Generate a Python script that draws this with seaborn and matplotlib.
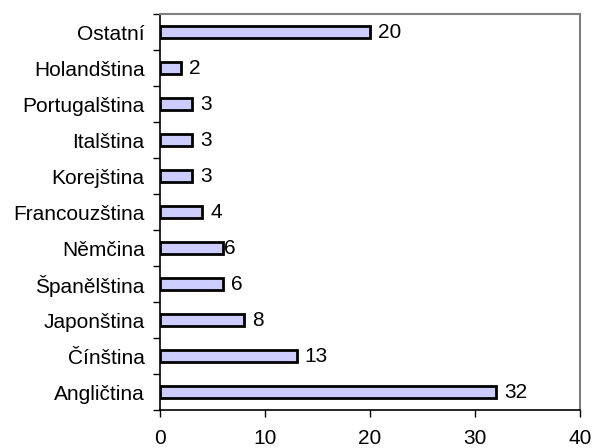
import matplotlib
matplotlib.use("Agg")
import matplotlib.pyplot as plt
import seaborn as sns
import pandas as pd

# jazyky shora dolu
languages = ["Ostatní", "Holandština", "Portugalština", "Italština", "Korejština",
             "Francouzština", "Němčina", "Španělština", "Japonština", "Čínština",
             "Angličtina"]
values = [20, 2, 3, 3, 3, 4, 6, 6, 8, 13, 32]
xticks = [0, 10, 20, 30, 40]

df = pd.DataFrame({"jazyk": languages, "pocet": values})

sns.set_style("white")
plt.rcParams["font.family"] = ["Liberation Sans", "DejaVu Sans"]
plt.rcParams["text.color"] = "black"
plt.rcParams["xtick.color"] = "black"
plt.rcParams["ytick.color"] = "black"

fig = plt.figure(figsize=(5.92, 4.48), dpi=100)
ax = fig.add_axes([160 / 592, 38 / 448, 420 / 592, 396 / 448])

sns.barplot(data=df, x="pocet", y="jazyk", order=languages, orient="h",
            color="#CCCCFF", edgecolor="black", linewidth=2.0, width=0.34,
            saturation=1, ax=ax)

ax.set_xlim(0, 40)
ax.set_ylim(len(languages) - 0.5, -0.5)
ax.set_xticks(xticks)
ax.set_xlabel("")
ax.set_ylabel("")

# popisky hodnot
for i, p in enumerate(ax.patches):
    pad = 1 if languages[i] == "Němčina" else 6
    ax.annotate(f"{values[i]:g}", (p.get_x() + p.get_width(), p.get_y() + p.get_height() / 2),
                xytext=(pad, 0), textcoords="offset points", ha="left", va="center",
                fontsize=15, color="black")

# tiky na hranicich kategorii
ax.set_yticks([i - 0.5 for i in range(len(languages) + 1)], minor=True)
ax.tick_params(axis="y", which="major", length=0, pad=11, labelsize=15, labelcolor="black")
ax.tick_params(axis="y", which="minor", length=5, width=1, color="black", direction="out", left=True)
ax.tick_params(axis="x", which="major", length=5, width=1, color="black", direction="out",
               bottom=True, pad=9, labelsize=15, labelcolor="black")

for s in ["left", "bottom"]:
    ax.spines[s].set_color("black")
    ax.spines[s].set_linewidth(1.2)
for s in ["top", "right"]:
    ax.spines[s].set_color("#808080")
    ax.spines[s].set_linewidth(1.5)

fig.savefig("out.png", dpi=100)
